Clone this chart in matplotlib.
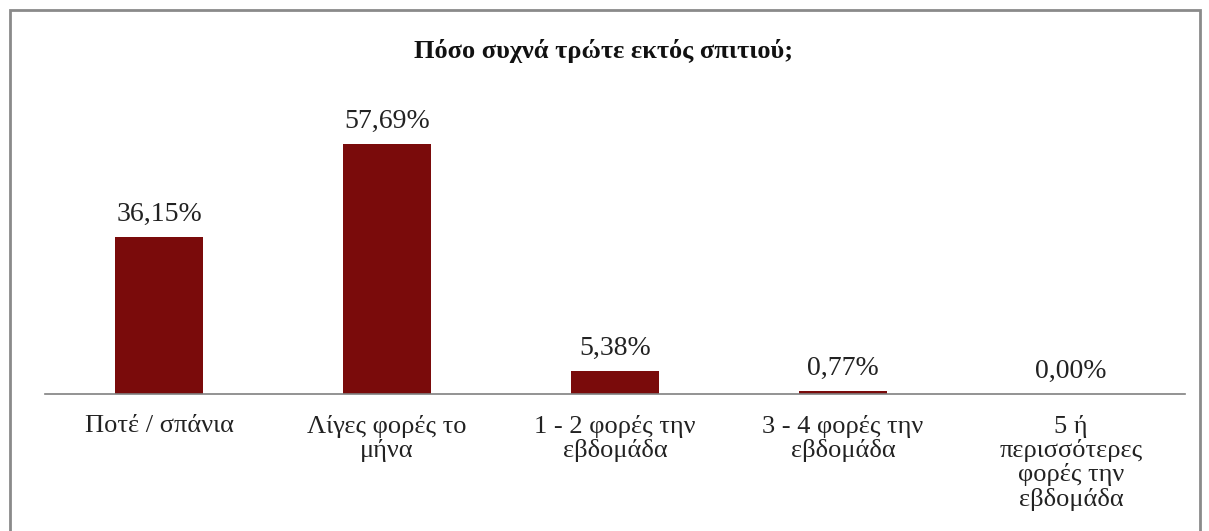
import matplotlib.pyplot as plt
from matplotlib.patches import Rectangle

# survey answers: how often people eat out
categories = ["Ποτέ / σπάνια", "Λίγες φορές το\nμήνα", "1 - 2 φορές την\nεβδομάδα",
              "3 - 4 φορές την\nεβδομάδα", "5 ή\nπερισσότερες\nφορές την\nεβδομάδα"]
percentages = [36.15, 57.69, 5.38, 0.77, 0.00]
title = "Πόσο συχνά τρώτε εκτός σπιτιού;"

W, H = 1209, 531
fig = plt.figure(figsize=(W / 100, H / 100), dpi=100)
plt.rcParams['font.family'] = ['Liberation Serif', 'DejaVu Serif']

# axes placed in pixel terms: baseline at y=394, category slots from x=45 to 1185
left, right, bottom, top = 45, 1185, 394, 100
ax = fig.add_axes([left / W, 1 - bottom / H, (right - left) / W, (bottom - top) / H])

x = range(len(categories))
bars = ax.bar(x, percentages, width=0.39, color='#7a0b0b')
ax.set_xlim(-0.5, len(categories) - 0.5)
ax.set_ylim(0, (bottom - top) / 4.34)

for b, v in zip(bars, percentages):
    ax.annotate(f"{v:.2f}%".replace('.', ','), (b.get_x() + b.get_width() / 2, v),
                xytext=(0, 7), textcoords='offset points', ha='center', va='bottom',
                fontsize=20, color='#222222')

ax.set_xticks(list(x))
ax.set_xticklabels(categories, fontsize=19, color='#222222', linespacing=1.07)
ax.tick_params(axis='x', length=0, pad=15)
ax.set_yticks([])
for s in ['top', 'right', 'left']:
    ax.spines[s].set_visible(False)
ax.spines['bottom'].set_color('#808080')
ax.spines['bottom'].set_linewidth(1.2)

fig.text(603 / W, 1 - 51 / H, title, ha='center', va='center',
         fontsize=19, fontweight='bold', color='#111111')

# outer frame
fig.patches.append(Rectangle((10 / W, -0.1), 1190 / W, 1.1 - 10 / H, transform=fig.transFigure,
                             fill=False, edgecolor='#8a8a8a', linewidth=2))

fig.savefig('out.png', dpi=100)
